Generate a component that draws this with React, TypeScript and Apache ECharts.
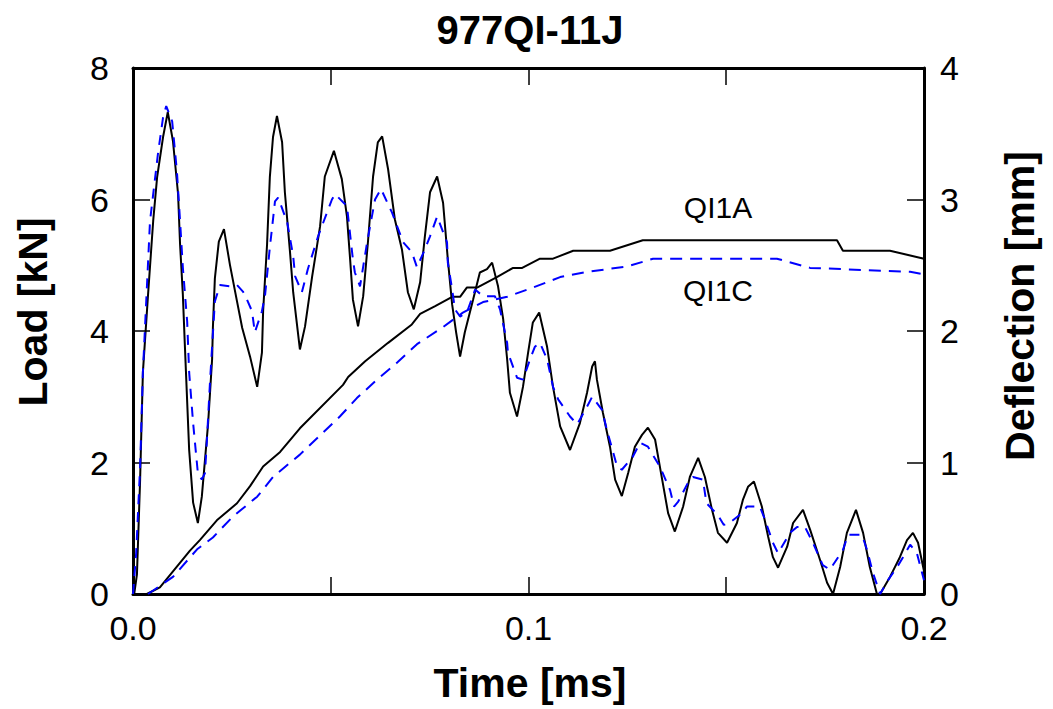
import React, { useEffect, useRef } from "react";
import * as echarts from "echarts";

const chartTitle = "977QI-11J";
const xTicks = [0, 0.05, 0.1, 0.15, 0.2];
const loadTicks = [0, 2, 4, 6, 8];
const deflTicks = [0, 1, 2, 3, 4];

// Load [kN] vs time [ms], specimen QI1A (black, solid)
const loadQI1A: number[][] = [
  [0, 0], [0.0003, 0], [0.001, 0.3], [0.0018, 1.74], [0.0025, 3.37], [0.0038, 4.55], [0.0051, 5.67],
  [0.0061, 6.34], [0.0076, 6.95], [0.0088, 7.33], [0.0101, 6.89], [0.0114, 6.08], [0.0119, 5.32],
  [0.0126, 4.56], [0.0131, 3.8], [0.0142, 2.19], [0.0152, 1.39], [0.0164, 1.08], [0.0174, 1.48],
  [0.019, 2.6], [0.02, 3.57], [0.0202, 4.05], [0.0207, 4.8], [0.0217, 5.36], [0.023, 5.55],
  [0.0245, 5.01], [0.0263, 4.45], [0.0276, 4.05], [0.0296, 3.61], [0.0314, 3.15], [0.0326, 3.67],
  [0.0329, 4.3], [0.0339, 5.32], [0.0346, 6.34], [0.0354, 6.95], [0.0364, 7.27], [0.0377, 6.87],
  [0.0384, 6.11], [0.0397, 5.2], [0.0405, 4.59], [0.0422, 3.72], [0.0435, 4.07], [0.0453, 4.83],
  [0.0473, 5.59], [0.0485, 6.35], [0.0508, 6.74], [0.0528, 6.31], [0.0541, 5.74], [0.0549, 5.09],
  [0.0556, 4.48], [0.0569, 4.07], [0.0582, 4.53], [0.0594, 5.35], [0.0607, 6.35], [0.0619, 6.87],
  [0.063, 6.96], [0.0645, 6.46], [0.0662, 5.7], [0.068, 5.24], [0.0695, 4.59], [0.071, 4.33],
  [0.0726, 4.74], [0.0738, 5.44], [0.0751, 6.11], [0.0769, 6.35], [0.0784, 5.95], [0.0796, 5.09],
  [0.0807, 4.4], [0.0817, 3.98], [0.0827, 3.61], [0.0839, 3.98], [0.086, 4.48], [0.0877, 4.89],
  [0.0895, 4.94], [0.0908, 5.04], [0.0923, 4.68], [0.0936, 4.18], [0.0946, 3.57], [0.0953, 3.06],
  [0.0971, 2.7], [0.0986, 3.15], [0.0999, 3.67], [0.1011, 4.13], [0.1027, 4.28], [0.1047, 3.76],
  [0.1062, 3.15], [0.108, 2.55], [0.1105, 2.19], [0.113, 2.6], [0.1148, 3.06], [0.1161, 3.46],
  [0.1168, 3.54], [0.1173, 3.26], [0.1188, 2.76], [0.1206, 2.24], [0.1219, 1.74], [0.1236, 1.49],
  [0.1252, 1.84], [0.1269, 2.24], [0.1287, 2.42], [0.1302, 2.53], [0.132, 2.35], [0.1338, 1.74],
  [0.1353, 1.23], [0.137, 0.95], [0.1391, 1.33], [0.1408, 1.78], [0.1429, 2.07], [0.1446, 1.78],
  [0.1464, 1.28], [0.1479, 0.93], [0.1502, 0.78], [0.1527, 1.08], [0.1542, 1.43], [0.1555, 1.63],
  [0.157, 1.71], [0.159, 1.33], [0.1606, 0.87], [0.1618, 0.56], [0.1631, 0.4], [0.1654, 0.72],
  [0.1669, 1.08], [0.1694, 1.28], [0.1712, 0.98], [0.1737, 0.52], [0.1755, 0.17], [0.177, 0],
  [0.1788, 0.41], [0.1805, 0.93], [0.1828, 1.28], [0.1846, 0.93], [0.1863, 0.41], [0.1881, 0],
  [0.1889, 0], [0.1914, 0.26], [0.1939, 0.56], [0.1957, 0.82], [0.1972, 0.93], [0.1985, 0.78],
  [0.2, 0.35],
];

// Load [kN] vs time [ms], specimen QI1C (blue, dashed)
const loadQI1C: number[][] = [
  [0, 0], [0.0008, 0.62], [0.0018, 1.94], [0.0025, 3.37], [0.0043, 5.67], [0.0063, 6.69],
  [0.0076, 7.25], [0.0084, 7.42], [0.0099, 7.19], [0.0111, 6.43], [0.0119, 5.67], [0.0126, 4.97],
  [0.0137, 4.14], [0.0142, 3.37], [0.0152, 2.6], [0.0164, 1.84], [0.0174, 1.74], [0.0182, 1.84],
  [0.0187, 2.35], [0.0195, 3.26], [0.02, 3.76], [0.0207, 4.45], [0.022, 4.7], [0.0245, 4.68],
  [0.0263, 4.7], [0.0278, 4.6], [0.0283, 4.55], [0.0301, 4.3], [0.0308, 3.98], [0.0326, 4.3],
  [0.0334, 4.55], [0.0346, 5.27], [0.0359, 5.97], [0.0367, 6.03], [0.039, 5.65], [0.0405, 5.14],
  [0.041, 4.83], [0.0427, 4.59], [0.0442, 4.94], [0.0468, 5.44], [0.0503, 6.0], [0.0511, 6.08],
  [0.0541, 5.9], [0.0556, 5.09], [0.0561, 4.89], [0.0574, 4.68], [0.0592, 5.35], [0.0612, 6.0],
  [0.0627, 6.16], [0.0655, 5.8], [0.0683, 5.35], [0.0705, 5.2], [0.0718, 4.97], [0.0738, 5.24],
  [0.0751, 5.44], [0.0769, 5.74], [0.0794, 5.35], [0.0796, 5.04], [0.0807, 4.63], [0.0814, 4.33],
  [0.0827, 4.22], [0.0844, 4.28], [0.0865, 4.63], [0.0885, 4.53], [0.0915, 4.53], [0.0928, 4.33],
  [0.0946, 3.82], [0.0948, 3.67], [0.0971, 3.29], [0.0986, 3.26], [0.1004, 3.57], [0.1016, 3.76],
  [0.1029, 3.82], [0.1047, 3.57], [0.1062, 3.15], [0.1075, 2.96], [0.1105, 2.7], [0.1123, 2.58],
  [0.1148, 2.85], [0.1161, 3.0], [0.1186, 2.8], [0.1198, 2.5], [0.1224, 1.94], [0.1236, 1.89],
  [0.1264, 2.09], [0.1282, 2.3], [0.1302, 2.24], [0.1332, 1.94], [0.1358, 1.58], [0.1368, 1.33],
  [0.1378, 1.4], [0.1403, 1.69], [0.1416, 1.78], [0.1441, 1.74], [0.145, 1.38], [0.1479, 1.2],
  [0.1494, 1.05], [0.1512, 1.1], [0.154, 1.23], [0.1552, 1.33], [0.1585, 1.33], [0.1598, 1.13],
  [0.1618, 0.78], [0.1631, 0.62], [0.1661, 0.93], [0.1679, 1.02], [0.1699, 1.02], [0.1719, 0.78],
  [0.1744, 0.44], [0.1762, 0.37], [0.1795, 0.67], [0.1808, 0.9], [0.1843, 0.9], [0.1856, 0.67],
  [0.1871, 0.32], [0.1889, 0], [0.1909, 0.21], [0.1932, 0.41], [0.1947, 0.56], [0.1965, 0.75],
  [0.1982, 0.62], [0.2, 0.21],
];

// Deflection [mm] vs time [ms]
const deflQI1A: number[][] = [
  [0.0035, 0], [0.0068, 0.05], [0.0144, 0.33], [0.0169, 0.41], [0.0212, 0.56], [0.0263, 0.69],
  [0.0296, 0.82], [0.0329, 0.97], [0.0372, 1.08], [0.0422, 1.26], [0.0531, 1.59], [0.0544, 1.65],
  [0.0587, 1.77], [0.0645, 1.91], [0.0705, 2.05], [0.0726, 2.13], [0.0764, 2.19], [0.0807, 2.26],
  [0.0827, 2.26], [0.0844, 2.33], [0.087, 2.33], [0.092, 2.41], [0.0961, 2.48], [0.0984, 2.48],
  [0.1029, 2.55], [0.1062, 2.55], [0.1113, 2.61], [0.1206, 2.61], [0.1289, 2.69], [0.178, 2.69],
  [0.1795, 2.61], [0.1914, 2.61], [0.2, 2.55],
];

const deflQI1C: number[][] = [
  [0.0038, 0], [0.0101, 0.13], [0.0162, 0.34], [0.0202, 0.43], [0.0253, 0.59], [0.0314, 0.74],
  [0.0354, 0.89], [0.0422, 1.06], [0.0523, 1.35], [0.0566, 1.49], [0.0617, 1.63], [0.0668, 1.76],
  [0.0718, 1.9], [0.0784, 2.03], [0.0834, 2.14], [0.0885, 2.22], [0.0946, 2.26], [0.1011, 2.33],
  [0.108, 2.41], [0.1148, 2.45], [0.1249, 2.49], [0.1315, 2.55], [0.1628, 2.55], [0.1712, 2.48],
  [0.1965, 2.45], [0.2, 2.43],
];

const FONT = "'Liberation Sans', Arial, Helvetica, sans-serif";
const BLUE = "#0000ff";

export default function App() {
  const ref = useRef<HTMLDivElement>(null);
  useEffect(() => {
    if (!ref.current) return;
    const chart = echarts.init(ref.current, null, { renderer: "svg" });
    const axisLine = { show: true, onZero: false, lineStyle: { color: "#000", width: 3 } };
    const axisTick = { show: true, inside: true, length: 17, lineStyle: { color: "#000", width: 1.5 } };
    const labelStyle = { color: "#000", fontSize: 34, lineHeight: 28, fontFamily: FONT };
    const xFmt = (v: number) => {
      const k = Math.round(v * 10);
      return Math.abs(v * 10 - k) < 1e-6 ? (k / 10).toFixed(1) : "";
    };
    chart.setOption({
      animation: false,
      backgroundColor: "#fff",
      grid: { left: 133, right: 129, top: 68, bottom: 115, containLabel: false },
      xAxis: [
        {
          type: "value", min: xTicks[0], max: xTicks[xTicks.length - 1], interval: xTicks[1] - xTicks[0],
          position: "bottom", axisLine, axisTick,
          axisLabel: { ...labelStyle, margin: 20, formatter: xFmt },
          splitLine: { show: false },
        },
        {
          type: "value", min: xTicks[0], max: xTicks[xTicks.length - 1], interval: xTicks[1] - xTicks[0],
          position: "top", axisLine, axisTick, axisLabel: { show: false }, splitLine: { show: false },
        },
      ],
      yAxis: [
        {
          type: "value", min: loadTicks[0], max: loadTicks[loadTicks.length - 1], interval: loadTicks[1] - loadTicks[0],
          position: "left", axisLine, axisTick, axisLabel: { ...labelStyle, margin: 24 },
          splitLine: { show: false },
        },
        {
          type: "value", min: deflTicks[0], max: deflTicks[deflTicks.length - 1], interval: deflTicks[1] - deflTicks[0],
          position: "right", axisLine, axisTick, axisLabel: { ...labelStyle, margin: 16 },
          splitLine: { show: false },
        },
      ],
      series: [
        {
          name: "Load QI1A", type: "line", xAxisIndex: 0, yAxisIndex: 0, data: loadQI1A,
          showSymbol: false, symbol: "none", lineStyle: { color: "#000", width: 2 }, z: 2,
        },
        {
          name: "Load QI1C", type: "line", xAxisIndex: 0, yAxisIndex: 0, data: loadQI1C,
          showSymbol: false, symbol: "none", lineStyle: { color: BLUE, width: 2, type: [10, 8] }, z: 3,
        },
        {
          name: "Deflection QI1A", type: "line", xAxisIndex: 0, yAxisIndex: 1, data: deflQI1A,
          showSymbol: false, symbol: "none", lineStyle: { color: "#000", width: 2 }, z: 2,
        },
        {
          name: "Deflection QI1C", type: "line", xAxisIndex: 0, yAxisIndex: 1, data: deflQI1C,
          showSymbol: false, symbol: "none", lineStyle: { color: BLUE, width: 2, type: [12, 8] }, z: 3,
        },
      ],
      graphic: [
        {
          type: "text", x: 530, y: 30,
          style: { text: chartTitle, font: `bold 40px ${FONT}`, fill: "#000", align: "center", verticalAlign: "middle" },
        },
        {
          type: "text", x: 530, y: 683,
          style: { text: "Time [ms]", font: `bold 41px ${FONT}`, fill: "#000", align: "center", verticalAlign: "middle" },
        },
        {
          type: "text", x: 33, y: 312, rotation: Math.PI / 2,
          style: { text: "Load [kN]", font: `bold 41px ${FONT}`, fill: "#000", align: "center", verticalAlign: "middle" },
        },
        {
          type: "text", x: 1020, y: 306, rotation: Math.PI / 2,
          style: { text: "Deflection [mm]", font: `bold 41px ${FONT}`, fill: "#000", align: "center", verticalAlign: "middle" },
        },
        {
          type: "text", x: 718, y: 207,
          style: { text: "QI1A", font: `30px ${FONT}`, fill: "#000", align: "center", verticalAlign: "middle" },
        },
        {
          type: "text", x: 718, y: 290,
          style: { text: "QI1C", font: `30px ${FONT}`, fill: "#000", align: "center", verticalAlign: "middle" },
        },
      ],
    });
    return () => chart.dispose();
  }, []);
  return (
    <div
      ref={ref}
      style={{ position: "absolute", left: 0, top: 0, width: 1053, height: 709, background: "#fff" }}
    />
  );
}
